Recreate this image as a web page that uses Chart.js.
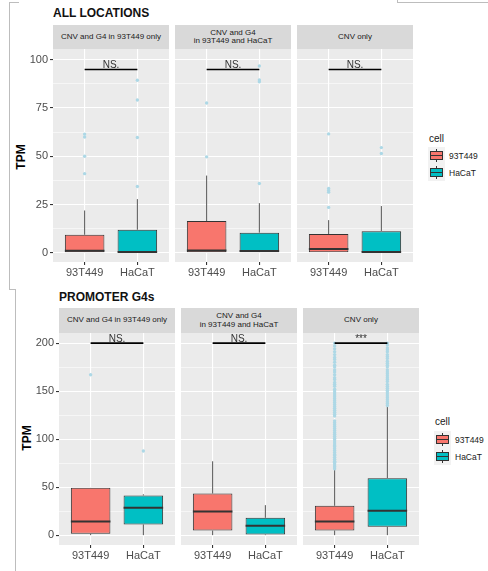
<!DOCTYPE html>
<html>
<head>
<meta charset="utf-8">
<script src="https://cdn.jsdelivr.net/npm/chart.js@4.4.1/dist/chart.umd.min.js"></script>
<style>
  html, body { margin: 0; padding: 0; background: #fff; }
  body { width: 488px; height: 571px; position: relative; overflow: hidden; font-family: 'Liberation Sans', Arial, sans-serif; }
  .abs { position: absolute; }
  canvas { position: absolute; }
  .title { font-weight: bold; font-size: 12px; color: #111; white-space: nowrap; line-height: 14px; }
  .strip { background: #D9D9D9; display: flex; align-items: center; justify-content: center; text-align: center; font-size: 8px; line-height: 8.5px; color: #1A1A1A; white-space: pre-line; }
  .ylab { font-weight: bold; font-size: 12px; color: #000; transform: translate(-50%, -50%) rotate(-90deg); white-space: nowrap; }
  .legtitle { font-size: 10px; color: #1A1A1A; line-height: 12px; }
  .legkey { width: 17px; height: 17px; background: #F2F2F2; }
  .leglab { font-size: 8.5px; color: #1A1A1A; line-height: 10px; white-space: nowrap; }
  .frame { background: #BDBDBD; }
</style>
</head>
<body>
<script>
// ---------------- DATA ----------------
const CELLS = ['93T449', 'HaCaT'];
const CELL_COLORS = ['#F8766D', '#00BFC4'];
const FACETS = ['CNV and G4 in 93T449 only', 'CNV and G4\nin 93T449 and HaCaT', 'CNV only'];

// ALL LOCATIONS — per facet: [93T449, HaCaT]
const ALL_LOWER  = [[0, 0], [0, 0], [0, 0]];
const ALL_Q1     = [[0, 0], [0, 0], [0, 0]];
const ALL_MEDIAN = [[1.0, 0.4], [1.1, 0.9], [2.0, 0.4]];
const ALL_Q3     = [[9.3, 11.9], [16.4, 10.4], [9.7, 11.2]];
const ALL_UPPER  = [[21.9, 27.8], [40.0, 25.7], [16.9, 24.2]];
const ALL_OUTLIERS = [
  [[61.5, 60.0, 50.0, 41.0], [89.4, 79.2, 59.7, 34.3]],
  [[77.6, 49.7], [96.8, 89.5, 88.6, 35.9]],
  [[61.6, 33.3, 32.3, 31.4, 23.5], [54.5, 51.4]]
];
const ALL_SIG = ['NS.', 'NS.', 'NS.'];
const ALL_BRACKET = 95;
const ALL_MAJOR = [0, 25, 50, 75, 100];
const ALL_MINOR = [12.5, 37.5, 62.5, 87.5];

// PROMOTER G4s — per facet: [93T449, HaCaT]
const PROM_LOWER  = [[0, 0], [0, 0], [0, 0]];
const PROM_Q1     = [[1.4, 11.1], [4.8, 0.7], [4.8, 8.7]];
const PROM_MEDIAN = [[14.2, 28.4], [24.6, 9.7], [14.2, 25.3]];
const PROM_Q3     = [[49.2, 41.3], [43.3, 18.0], [30.5, 59.3]];
const PROM_UPPER  = [[49.2, 42.5], [76.9, 31.2], [68.3, 134.0]];
const PROM_OUTLIERS = [
  [[167.0], [87.6]],
  [[], []],
  [
    [69, 71, 72, 74, 76, 77, 79, 81, 83, 84, 86, 88, 90, 92, 93, 95, 97, 99, 101, 103, 105, 107, 109, 111, 113, 115, 117, 119,
     124, 126, 128, 130, 132, 134, 136, 138, 140, 142, 144, 146, 148, 150, 152, 155, 157, 159, 162, 164, 167, 170, 172, 175,
     177, 180, 183, 185, 188, 191, 194, 197, 200],
    [135, 137, 139, 141, 143, 145, 147, 149, 151, 153, 155, 157, 160, 162, 164, 166, 168, 170, 172, 175, 177, 179, 181, 184,
     186, 188, 191, 193, 195, 198, 200]
  ]
];
const PROM_SIG = ['NS.', 'NS.', '***'];
const PROM_BRACKET = 200;
const PROM_MAJOR = [0, 50, 100, 150, 200];
const PROM_MINOR = [25, 75, 125, 175];

// ---------------- LAYOUT ----------------
const FONT = "'Liberation Sans', Arial, sans-serif";
const BOX_WIDTH = 0.75;
const ROWS = [
  { name: 'ALL LOCATIONS', titleLeft: 53, titleTop: 6, stripTop: 25, plotTop: 49, plotBottom: 262,
    lefts: [53, 175, 297], yMin: -4.8, yMax: 105.6, ylabX: 21, ylabY: 157, legLeft: 428, legTitleTop: 133, legKeyTop: 147,
    lower: ALL_LOWER, q1: ALL_Q1, med: ALL_MEDIAN, q3: ALL_Q3, upper: ALL_UPPER, out: ALL_OUTLIERS,
    sig: ALL_SIG, bracket: ALL_BRACKET, major: ALL_MAJOR, minor: ALL_MINOR },
  { name: 'PROMOTER G4s', titleLeft: 59, titleTop: 290, stripTop: 308, plotTop: 333, plotBottom: 545,
    lefts: [59, 181, 303], yMin: -10.3, yMax: 210.5, ylabX: 27, ylabY: 438, legLeft: 434, legTitleTop: 416, legKeyTop: 431,
    lower: PROM_LOWER, q1: PROM_Q1, med: PROM_MEDIAN, q3: PROM_Q3, upper: PROM_UPPER, out: PROM_OUTLIERS,
    sig: PROM_SIG, bracket: PROM_BRACKET, major: PROM_MAJOR, minor: PROM_MINOR }
];
const PANEL_W = 116;
const LEFT_AXIS_W = 45;
const BOTTOM_AXIS_H = 24;

function el(cls, styles, text) {
  const d = document.createElement('div');
  d.className = 'abs ' + cls;
  Object.assign(d.style, styles);
  if (text !== undefined) d.textContent = text;
  document.body.appendChild(d);
  return d;
}

// frame lines of the screenshot
el('frame', { left: '9px', top: '2px', width: '10px', height: '1px' });
el('frame', { left: '9px', top: '2px', width: '1px', height: '287px' });
el('frame', { left: '9px', top: '289px', width: '7px', height: '1px' });
el('frame', { left: '15px', top: '289px', width: '1px', height: '282px' });
el('frame', { left: '397px', top: '0px', width: '1px', height: '3px' });
el('frame', { left: '397px', top: '2px', width: '91px', height: '1px' });

const bgPlugin = {
  id: 'panelBg',
  beforeDraw(chart) {
    const a = chart.chartArea, c = chart.ctx;
    c.save(); c.fillStyle = '#EBEBEB'; c.fillRect(a.left, a.top, a.right - a.left, a.bottom - a.top); c.restore();
  }
};
const sigPlugin = {
  id: 'sigText',
  afterDatasetsDraw(chart, args, opts) {
    const c = chart.ctx, xs = chart.scales.x, ys = chart.scales.y;
    c.save();
    c.fillStyle = '#333';
    c.font = '10px ' + FONT;
    c.textAlign = 'center';
    c.textBaseline = 'alphabetic';
    c.fillText(opts.text, xs.getPixelForValue(0.5), ys.getPixelForValue(opts.y) - 1);
    c.restore();
  }
};

ROWS.forEach((row, r) => {
  el('title', { left: row.titleLeft + 'px', top: row.titleTop + 'px' }, row.name);
  el('ylab', { left: row.ylabX + 'px', top: row.ylabY + 'px' }, 'TPM');

  // legend
  el('legtitle', { left: (row.legLeft + 1) + 'px', top: row.legTitleTop + 'px' }, 'cell');
  CELLS.forEach((cell, i) => {
    const top = row.legKeyTop + i * 17;
    const k = el('legkey', { left: row.legLeft + 'px', top: top + 'px' });
    const mk = (st) => { const d = document.createElement('div'); d.style.position = 'absolute'; Object.assign(d.style, st); k.appendChild(d); };
    mk({ left: '8px', top: '1.7px', width: '1px', height: '2.6px', background: '#333' });
    mk({ left: '8px', top: '12.7px', width: '1px', height: '2.6px', background: '#333' });
    mk({ left: '1.7px', top: '4.25px', width: '13.6px', height: '8.5px', background: CELL_COLORS[i], boxSizing: 'border-box', border: '1px solid #333' });
    mk({ left: '1.7px', top: '7.7px', width: '13.6px', height: '1.6px', background: '#333' });
    el('leglab', { left: (row.legLeft + 21) + 'px', top: (top + 3.5) + 'px' }, cell);
  });

  FACETS.forEach((facet, f) => {
    const left = row.lefts[f];
    el('strip', { left: left + 'px', top: row.stripTop + 'px', width: PANEL_W + 'px', height: (row.plotTop - row.stripTop) + 'px' }, facet);

    const first = f === 0;
    const cv = document.createElement('canvas');
    const cw = PANEL_W + (first ? LEFT_AXIS_W : 0);
    const ch = (row.plotBottom - row.plotTop) + BOTTOM_AXIS_H;
    cv.width = cw; cv.height = ch;
    cv.style.left = (left - (first ? LEFT_AXIS_W : 0)) + 'px';
    cv.style.top = row.plotTop + 'px';
    cv.style.width = cw + 'px'; cv.style.height = ch + 'px';
    document.body.appendChild(cv);

    const idx = [0, 1];
    const boxes = idx.map(i => ({ x: i, y: [row.q1[f][i], row.q3[f][i]] }));
    const whiskers = idx.map(i => ({
      type: 'line', order: 4, data: [
        { x: i, y: row.lower[f][i] }, { x: i, y: row.q1[f][i] }, { x: i, y: null },
        { x: i, y: row.q3[f][i] }, { x: i, y: row.upper[f][i] }],
      borderColor: '#555', borderWidth: 1, pointRadius: 0, spanGaps: false
    }));
    const medians = idx.map(i => ({
      type: 'line', order: 2, data: [
        { x: i - BOX_WIDTH / 2, y: row.med[f][i] }, { x: i + BOX_WIDTH / 2, y: row.med[f][i] }],
      borderColor: '#333', borderWidth: 2, pointRadius: 0
    }));
    const outliers = idx.map(i => ({
      type: 'line', order: 1, showLine: false,
      data: row.out[f][i].map(v => ({ x: i, y: v })),
      pointRadius: 1.7, pointBackgroundColor: '#ADD8E6', pointBorderWidth: 0, borderColor: '#ADD8E6'
    }));
    const bracket = {
      type: 'line', order: 0,
      data: [{ x: 0, y: row.bracket }, { x: 1, y: row.bracket }],
      borderColor: '#000', borderWidth: 1.6, pointRadius: 0
    };
    const boxDs = {
      type: 'bar', order: 3, data: boxes,
      backgroundColor: CELL_COLORS, borderColor: '#333', borderWidth: 1, borderSkipped: false,
      barPercentage: BOX_WIDTH, categoryPercentage: 1
    };

    new Chart(cv, {
      type: 'bar',
      data: { datasets: [bracket, ...outliers, ...medians, boxDs, ...whiskers] },
      options: {
        responsive: false, animation: false, devicePixelRatio: 1,
        layout: { padding: 0, autoPadding: false },
        plugins: { legend: { display: false }, tooltip: { enabled: false },
                   sigText: { text: row.sig[f], y: row.bracket } },
        scales: {
          x: {
            type: 'linear', min: -0.6, max: 1.6, offset: false,
            afterBuildTicks: s => { s.ticks = idx.map(v => ({ value: v })); },
            afterFit: s => { s.height = BOTTOM_AXIS_H; s.paddingLeft = 0; s.paddingRight = 0; s.paddingTop = 0; s.paddingBottom = 0; },
            border: { display: false },
            grid: { offset: false, color: '#FFFFFF', lineWidth: 1.1, drawTicks: true, tickLength: 3, tickColor: '#333' },
            ticks: { callback: v => CELLS[v], color: '#4D4D4D', font: { family: FONT, size: 11 }, padding: 1, maxRotation: 0, autoSkip: false }
          },
          y: {
            type: 'linear', min: row.yMin, max: row.yMax,
            afterBuildTicks: s => { s.ticks = [...row.major, ...row.minor].sort((a, b) => a - b).map(v => ({ value: v })); },
            afterFit: s => { s.width = first ? LEFT_AXIS_W : 0; s.paddingTop = 0; s.paddingBottom = 0; s.paddingLeft = 0; s.paddingRight = 0; },
            border: { display: false },
            grid: {
              color: '#FFFFFF',
              lineWidth: c => row.major.includes(c.tick.value) ? 1.1 : 0.55,
              drawTicks: first, tickLength: 3,
              tickColor: c => row.major.includes(c.tick.value) ? '#333' : 'rgba(0,0,0,0)'
            },
            ticks: {
              display: first,
              callback: v => row.major.includes(v) ? String(v) : '',
              color: '#4D4D4D', font: { family: FONT, size: 11 }, padding: 2, autoSkip: false
            }
          }
        }
      },
      plugins: [bgPlugin, sigPlugin]
    });
  });
});
</script>
</body>
</html>
